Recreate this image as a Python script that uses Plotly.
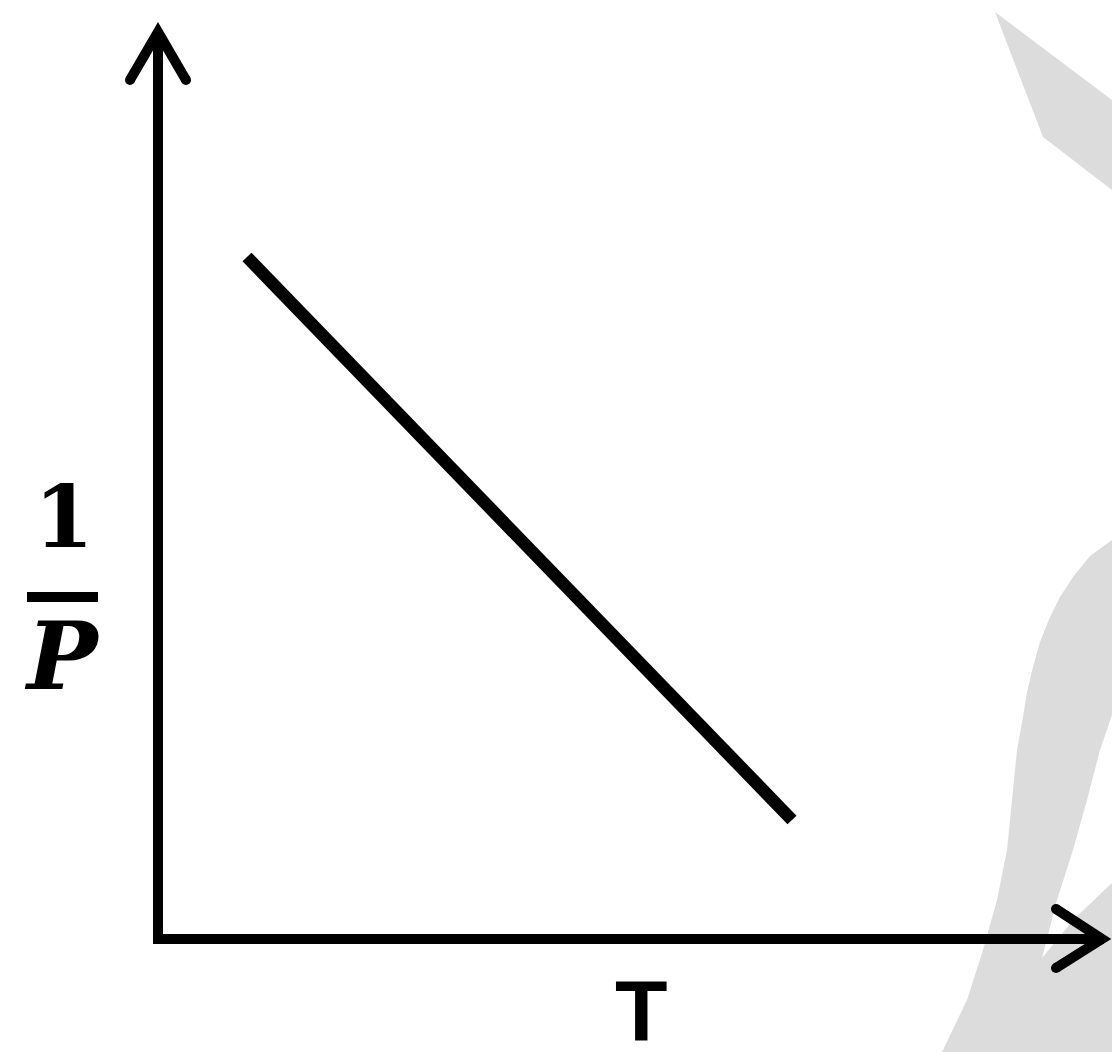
import plotly.graph_objects as go

# ---- data (schematic: 1/P decreasing linearly with T) ----
T_values = [89, 634]
invP_values = [682, 119]

# axis text
x_label = "T"
y_num = "1"
y_den = "P"

W, H = 1112, 1052
OX, OY = 158, 939  # pixel position of the origin


def d(px, py):
    return px - OX, OY - py


def path(points, close=False):
    s = "M " + " L ".join(f"{d(x, y)[0]},{d(x, y)[1]}" for x, y in points)
    return s + (" Z" if close else "")


fig = go.Figure()

fig.add_trace(go.Scatter(
    x=T_values, y=invP_values, mode="lines",
    line=dict(color="black", width=12.5), hoverinfo="skip", showlegend=False,
))

shapes = []
gray = "#dcdcdc"
# watermark shapes
shapes.append(dict(type="path", layer="below", line=dict(width=0), fillcolor=gray,
                   path=path([(995, 12), (1112, 100), (1112, 190), (1043, 137)], True)))
shapes.append(dict(type="path", layer="below", line=dict(width=0), fillcolor=gray,
                   path=path([(1112, 540), (1090, 556), (1073, 577), (1060, 597), (1050, 617),
                              (1040, 642), (1033, 667), (1027, 692), (1023, 717), (1017, 750),
                              (1012, 800), (1007, 850), (997, 900), (983, 950), (967, 1000),
                              (943, 1050), (942, 1052), (1112, 1052)], True)))
shapes.append(dict(type="path", layer="below", line=dict(width=0), fillcolor="white",
                   path=path([(1112, 715), (1100, 750), (1087, 800), (1073, 850), (1057, 900),
                              (1042, 958), (1075, 918), (1112, 883)], True)))

# axes
axcol = "black"
aw = 10
shapes.append(dict(type="line", x0=d(158, 944)[0], y0=d(158, 944)[1], x1=d(158, 32)[0], y1=d(158, 32)[1],
                   line=dict(color=axcol, width=aw)))
shapes.append(dict(type="line", x0=d(153, 939)[0], y0=d(153, 939)[1], x1=d(1104, 939)[0], y1=d(1104, 939)[1],
                   line=dict(color=axcol, width=aw)))
# arrow heads
shapes.append(dict(type="path", line=dict(color=axcol, width=aw),
                   path=path([(130, 80), (158, 32), (186, 80)])))
shapes.append(dict(type="path", line=dict(color=axcol, width=aw),
                   path=path([(1056, 909), (1102, 939), (1056, 968)])))
for (cx, cy) in [(130, 80), (186, 80), (1056, 909), (1056, 968)]:
    x, y = d(cx, cy)
    shapes.append(dict(type="circle", x0=x - aw / 2, x1=x + aw / 2, y0=y - aw / 2, y1=y + aw / 2,
                       fillcolor=axcol, line=dict(width=0)))
# fraction bar
shapes.append(dict(type="line", x0=d(27, 597)[0], y0=d(27, 597)[1], x1=d(98, 597)[0], y1=d(98, 597)[1],
                   line=dict(color=axcol, width=10)))

ann = []
x, y = d(64, 516)
ann.append(dict(x=x, y=y, text=f"<b>{y_num}</b>", showarrow=False,
                font=dict(family="DejaVu Serif", size=86, color="black")))
x, y = d(62, 656)
ann.append(dict(x=x, y=y, text=f"<b><i>{y_den}</i></b>", showarrow=False,
                font=dict(family="DejaVu Serif", size=94, color="black")))
x, y = d(641, 1010)
ann.append(dict(x=x, y=y, text=f"<b>{x_label}</b>", showarrow=False, height=78, valign="middle",
                font=dict(family="Liberation Sans", size=86, color="black")))

fig.update_layout(
    width=W, height=H,
    margin=dict(l=0, r=0, t=0, b=0),
    paper_bgcolor="white", plot_bgcolor="white",
    xaxis=dict(range=[-OX, W - OX], visible=False, fixedrange=True),
    yaxis=dict(range=[OY - H, OY], visible=False, fixedrange=True),
    shapes=shapes, annotations=ann, showlegend=False,
)

fig.write_html("out.html", config={"displayModeBar": False},
               post_script="document.body.style.margin='0px';document.body.style.overflow='hidden';")
